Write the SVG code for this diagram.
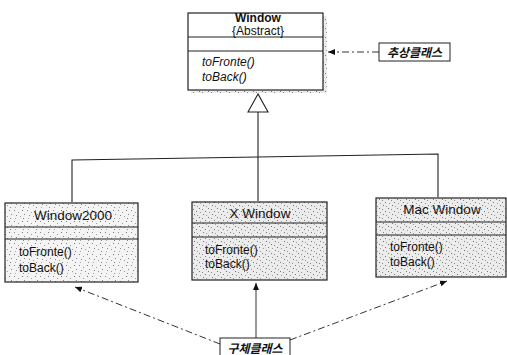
<svg xmlns="http://www.w3.org/2000/svg" width="507" height="355" viewBox="0 0 507 355">
<defs>
<style>
.box{stroke:#222;stroke-width:1.2}
.div{stroke:#222;stroke-width:1.1}
.t{font-family:"Liberation Sans",Arial,sans-serif;font-size:12px;fill:#111}
.nm{font-family:"Liberation Sans",Arial,sans-serif;font-size:13.5px;fill:#111}
.ti{font-family:"Liberation Sans",Arial,sans-serif;font-size:12px;font-style:italic;fill:#111}
.kr{font-family:"Liberation Sans","Noto Sans CJK KR",sans-serif;font-size:12px;font-style:italic;font-weight:bold;fill:#111}
.ln{stroke:#222;stroke-width:1.1;fill:none}
.dash{stroke:#333;stroke-width:1;fill:none;stroke-dasharray:7 3 2 3}
</style>
<pattern id="dots" width="13" height="11" patternUnits="userSpaceOnUse">
<rect width="13" height="11" fill="#f4f4f4"/>
<rect x="1" y="1" width="1" height="1" fill="#888"/>
<rect x="5" y="3" width="1" height="1" fill="#999"/>
<rect x="9" y="1" width="1" height="1" fill="#777"/>
<rect x="3" y="6" width="1" height="1" fill="#888"/>
<rect x="7" y="7" width="1" height="1" fill="#999"/>
<rect x="11" y="5" width="1" height="1" fill="#888"/>
<rect x="2" y="9" width="1" height="1" fill="#aaa"/>
<rect x="10" y="9" width="1" height="1" fill="#888"/>
</pattern>
<pattern id="dots2" width="9" height="9" patternUnits="userSpaceOnUse">
<rect width="9" height="9" fill="#ececec"/>
<rect x="1" y="1" width="1" height="1" fill="#777"/>
<rect x="4" y="2" width="1" height="1" fill="#888"/>
<rect x="7" y="4" width="1" height="1" fill="#777"/>
<rect x="2" y="5" width="1" height="1" fill="#999"/>
<rect x="5" y="7" width="1" height="1" fill="#777"/>
<rect x="8" y="8" width="1" height="1" fill="#999"/>
</pattern>
<marker id="ah" markerWidth="8" markerHeight="8" refX="7" refY="4" orient="auto" markerUnits="userSpaceOnUse">
<path d="M0,1 L7,4 L0,7 Z" fill="#111"/>
</marker>
</defs>
<rect width="507" height="355" fill="#fff"/>

<g id="connectors">
<polygon points="258,94 248,112 268,112" fill="#fff" stroke="#222" stroke-width="1.1"/>
<line class="ln" x1="258" y1="112" x2="258" y2="201"/>
<polyline class="ln" points="72,202 72,160 258,157 438,154 438,197"/>
<line class="dash" x1="379" y1="52" x2="328" y2="52" marker-end="url(#ah)"/>
<line class="dash" x1="220" y1="344" x2="75" y2="287" marker-end="url(#ah)"/>
<line x1="256" y1="338" x2="256" y2="283" stroke="#555" stroke-width="1.2" marker-end="url(#ah)"/>
<line class="dash" x1="290" y1="340" x2="447" y2="281" marker-end="url(#ah)"/>
</g>

<g id="window">
<rect x="323" y="16" width="4" height="77" fill="url(#dots2)"/>
<rect x="191" y="90" width="136" height="3" fill="url(#dots2)"/>
<rect class="box" x="188" y="13" width="135" height="77" fill="#fff"/>
<line class="div" x1="188" y1="37" x2="323" y2="37"/>
<line class="div" x1="188" y1="51" x2="323" y2="51"/>
<text class="t" x="258" y="22" text-anchor="middle" font-weight="bold">Window</text>
<text class="t" x="258" y="35" text-anchor="middle" font-size="10.5">{Abstract}</text>
<text class="ti" x="202" y="66">toFronte()</text>
<text class="ti" x="202" y="81">toBack()</text>
</g>

<g id="label-abstract">
<rect x="379" y="43" width="71" height="18" fill="#fff" stroke="#222" stroke-width="1"/>
<text class="kr" x="414.5" y="56.5" text-anchor="middle">추상클래스</text>
</g>

<g id="window2000">
<rect class="box" x="5" y="203" width="133" height="79" fill="url(#dots)"/>
<line class="div" x1="5" y1="227" x2="138" y2="227"/>
<line class="div" x1="5" y1="239" x2="138" y2="239"/>
<text class="nm" x="73" y="220" text-anchor="middle">Window2000</text>
<text class="t" x="19" y="256">toFronte()</text>
<text class="t" x="19" y="272">toBack()</text>
</g>

<g id="xwindow">
<rect class="box" x="192" y="202" width="135" height="78" fill="url(#dots2)"/>
<line class="div" x1="192" y1="223" x2="327" y2="223"/>
<line class="div" x1="192" y1="237" x2="327" y2="237"/>
<text class="nm" x="260" y="218" text-anchor="middle">X Window</text>
<text class="t" x="205" y="254">toFronte()</text>
<text class="t" x="205" y="268">toBack()</text>
</g>

<g id="macwindow">
<rect class="box" x="376" y="198" width="130" height="79" fill="url(#dots2)"/>
<line class="div" x1="376" y1="222" x2="506" y2="222"/>
<line class="div" x1="376" y1="235" x2="506" y2="235"/>
<text class="nm" x="442" y="214" text-anchor="middle">Mac Window</text>
<text class="t" x="390" y="251">toFronte()</text>
<text class="t" x="390" y="266">toBack()</text>
</g>

<g id="label-concrete">
<rect x="220" y="338" width="70" height="19" fill="#fff" stroke="#222" stroke-width="1"/>
<text class="kr" x="255" y="352.5" text-anchor="middle">구체클래스</text>
</g>
</svg>
